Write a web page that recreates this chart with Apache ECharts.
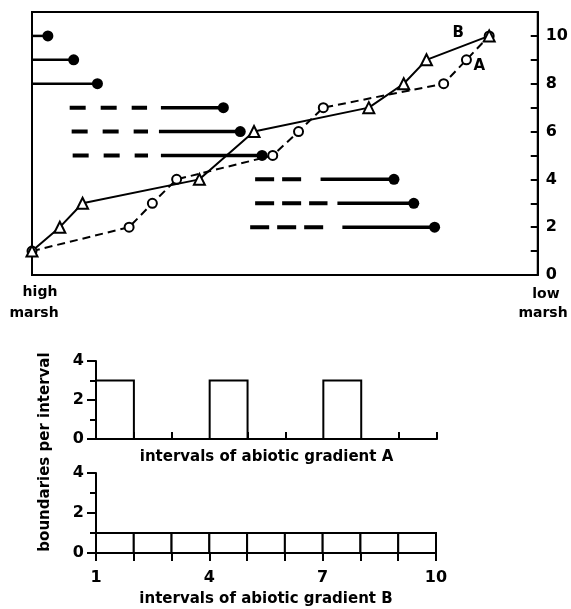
<!DOCTYPE html>
<html><head><meta charset="utf-8">
<script src="https://cdn.jsdelivr.net/npm/echarts@6/dist/echarts.min.js"></script>
<style>html,body{margin:0;padding:0;background:#fff}#c{width:571px;height:609px}</style>
</head><body><div id="c"></div>
<script>
// ---- data ----
const levelsA = [1, 2, 3, 4, 5, 6, 7, 8, 9, 10];
const positionsA = [0, 19.2, 23.8, 28.6, 47.6, 52.7, 57.6, 81.4, 85.9, 90.4];
const levelsB = [1, 2, 3, 4, 6, 7, 8, 9, 10];
const positionsB = [0, 5.5, 10.0, 33.1, 43.9, 66.6, 73.5, 78.0, 90.4];
const rangeLevels = [10, 9, 8, 7, 6, 5, 4, 3, 2];
const dashStart = [null, null, null, 7.45, 7.84, 8.04, 44.12, 44.12, 43.14];
const dashEnd = [null, null, null, 22.75, 22.94, 22.94, 53.33, 58.43, 58.43];
const solidStart = [0, 0, 0, 25.49, 25.10, 25.49, 57.06, 60.39, 61.37];
const rangeEnd = [3.14, 8.24, 12.94, 37.84, 41.18, 45.49, 71.57, 75.49, 79.61];
const rightLabels = [0, 2, 4, 6, 8, 10];
const intervalStarts = [1, 2, 3, 4, 5, 6, 7, 8, 9];
const intervalEnds = [2, 3, 4, 5, 6, 7, 8, 9, 10];
const boundariesA = [3, 0, 0, 3, 0, 0, 3, 0, 0];
const boundariesB = [1, 1, 1, 1, 1, 1, 1, 1, 1];
const bottomLabels = [1, 4, 7, 10];

// ---- styling ----
const FONT = 'DejaVu Sans';
const BLACK = '#000';
const leftDash = [16, 15];
const rightDash = [19, 8];

const chart = echarts.init(document.getElementById('c'), null, {renderer: 'canvas'});

const series = [];
rangeLevels.forEach((lvl, i) => {
  if (dashStart[i] !== null) {
    series.push({
      type: 'line', xAxisIndex: 0, yAxisIndex: 0, clip: false, z: 2, silent: true,
      symbol: 'none',
      data: [[dashStart[i], lvl], [dashEnd[i], lvl]],
      lineStyle: {color: BLACK, width: 4, type: dashStart[i] < 30 ? leftDash : rightDash, cap: 'butt'}
    });
  }
  series.push({
    type: 'line', xAxisIndex: 0, yAxisIndex: 0, clip: false, z: 2, silent: true,
    data: [
      {value: [solidStart[i], lvl], symbol: 'none'},
      {value: [rangeEnd[i], lvl], symbol: 'circle', symbolSize: 11}
    ],
    itemStyle: {color: BLACK},
    lineStyle: {color: BLACK, width: dashStart[i] !== null ? 3.5 : 2.5}
  });
});

series.push({
  name: 'A', type: 'line', xAxisIndex: 0, yAxisIndex: 0, clip: false, z: 4, silent: true,
  data: positionsA.map((x, i) => ({
    value: [x, levelsA[i]],
    label: i === levelsA.length - 2 ? {show: true, formatter: 'A', position: 'inside', offset: [13, 6]} : {show: false}
  })),
  symbol: 'circle', symbolSize: 9,
  itemStyle: {color: '#fff', borderColor: BLACK, borderWidth: 2},
  lineStyle: {color: BLACK, width: 2, type: [8, 5]},
  label: {color: BLACK, fontFamily: FONT, fontWeight: 'bold', fontSize: 15}
});
series.push({
  name: 'B', type: 'line', xAxisIndex: 0, yAxisIndex: 0, clip: false, z: 4, silent: true,
  data: positionsB.map((x, i) => ({
    value: [x, levelsB[i]],
    label: i === levelsB.length - 1 ? {show: true, formatter: 'B', position: 'inside', offset: [-31, -3]} : {show: false}
  })),
  symbol: 'triangle', symbolSize: 11,
  itemStyle: {color: '#fff', borderColor: BLACK, borderWidth: 2},
  lineStyle: {color: BLACK, width: 2},
  label: {color: BLACK, fontFamily: FONT, fontWeight: 'bold', fontSize: 15}
});

function histRender(params, api) {
  const h = api.value(2);
  if (!h) return null;
  const p0 = api.coord([api.value(0), h]);
  const p1 = api.coord([api.value(1), 0]);
  return {
    type: 'rect',
    shape: {x: p0[0], y: p0[1], width: p1[0] - p0[0], height: p1[1] - p0[1]},
    style: {fill: '#fff', stroke: BLACK, lineWidth: 2}
  };
}
series.push({
  type: 'custom', xAxisIndex: 1, yAxisIndex: 1, silent: true, z: 3,
  renderItem: histRender, encode: {x: [0, 1], y: 2},
  data: intervalStarts.map((s, i) => [s, intervalEnds[i], boundariesA[i]])
});
series.push({
  type: 'custom', xAxisIndex: 2, yAxisIndex: 2, silent: true, z: 3,
  renderItem: histRender, encode: {x: [0, 1], y: 2},
  data: intervalStarts.map((s, i) => [s, intervalEnds[i], boundariesB[i]])
});

const histY = (grid) => ({
  gridIndex: grid, type: 'value', min: 0, max: 4, interval: 2,
  axisLine: {show: true, onZero: false, lineStyle: {color: BLACK, width: 2}},
  axisTick: {show: true, length: 9, lineStyle: {color: BLACK, width: 2}},
  minorTick: {show: true, splitNumber: 2, length: 6, lineStyle: {color: BLACK, width: 2}},
  splitLine: {show: false},
  axisLabel: {margin: 12, color: BLACK, fontFamily: FONT, fontWeight: 'bold', fontSize: 16}
});

chart.setOption({
  animation: false,
  backgroundColor: '#fff',
  grid: [
    {left: 32, top: 12, width: 510, height: 263, show: true, borderColor: BLACK, borderWidth: 2, backgroundColor: 'transparent'},
    {left: 96, top: 361, width: 341, height: 78},
    {left: 96, top: 473, width: 340, height: 80}
  ],
  xAxis: [
    {gridIndex: 0, type: 'value', min: 0, max: 100, show: false},
    {gridIndex: 1, type: 'value', min: 1, max: 10, interval: 1,
      axisLine: {show: true, onZero: false, lineStyle: {color: BLACK, width: 2}},
      axisTick: {show: true, inside: true, length: 7, lineStyle: {color: BLACK, width: 2}},
      axisLabel: {show: false}, splitLine: {show: false},
      name: 'intervals of abiotic gradient A', nameLocation: 'middle', nameGap: 11,
      nameTextStyle: {color: BLACK, fontFamily: FONT, fontWeight: 'bold', fontSize: 15}
    },
    {gridIndex: 2, type: 'value', min: 1, max: 10, interval: 1,
      axisLine: {show: true, onZero: false, lineStyle: {color: BLACK, width: 2}},
      axisTick: {show: true, inside: false, length: 8, lineStyle: {color: BLACK, width: 2}},
      axisLabel: {margin: 17, color: BLACK, fontFamily: FONT, fontWeight: 'bold', fontSize: 16,
        formatter: v => bottomLabels.includes(v) ? String(v) : ''},
      splitLine: {show: false},
      name: 'intervals of abiotic gradient B', nameLocation: 'middle', nameGap: 39,
      nameTextStyle: {color: BLACK, fontFamily: FONT, fontWeight: 'bold', fontSize: 15}
    }
  ],
  yAxis: [
    {gridIndex: 0, type: 'value', position: 'right', min: 0, max: 11, interval: 1,
      axisLine: {show: true, onZero: false, lineStyle: {color: BLACK, width: 2}},
      axisTick: {show: true, inside: true, length: 7, lineStyle: {color: BLACK, width: 2}},
      axisLabel: {margin: 8, color: BLACK, fontFamily: FONT, fontWeight: 'bold', fontSize: 16,
        formatter: v => rightLabels.includes(v) ? String(v) : ''},
      splitLine: {show: false}
    },
    histY(1),
    histY(2)
  ],
  graphic: [
    {type: 'text', x: 40, y: 299, style: {text: 'high', fill: BLACK, font: 'bold 14px "DejaVu Sans"', textAlign: 'center', textVerticalAlign: 'bottom'}},
    {type: 'text', x: 34, y: 320, style: {text: 'marsh', fill: BLACK, font: 'bold 14px "DejaVu Sans"', textAlign: 'center', textVerticalAlign: 'bottom'}},
    {type: 'text', x: 546, y: 301, style: {text: 'low', fill: BLACK, font: 'bold 14px "DejaVu Sans"', textAlign: 'center', textVerticalAlign: 'bottom'}},
    {type: 'text', x: 543, y: 320, style: {text: 'marsh', fill: BLACK, font: 'bold 14px "DejaVu Sans"', textAlign: 'center', textVerticalAlign: 'bottom'}},
    {type: 'text', x: 45, y: 452, rotation: Math.PI / 2, style: {text: 'boundaries per interval', fill: BLACK, font: 'bold 15px "DejaVu Sans"', textAlign: 'center', textVerticalAlign: 'middle'}}
  ],
  series: series
});
</script>
</body></html>
